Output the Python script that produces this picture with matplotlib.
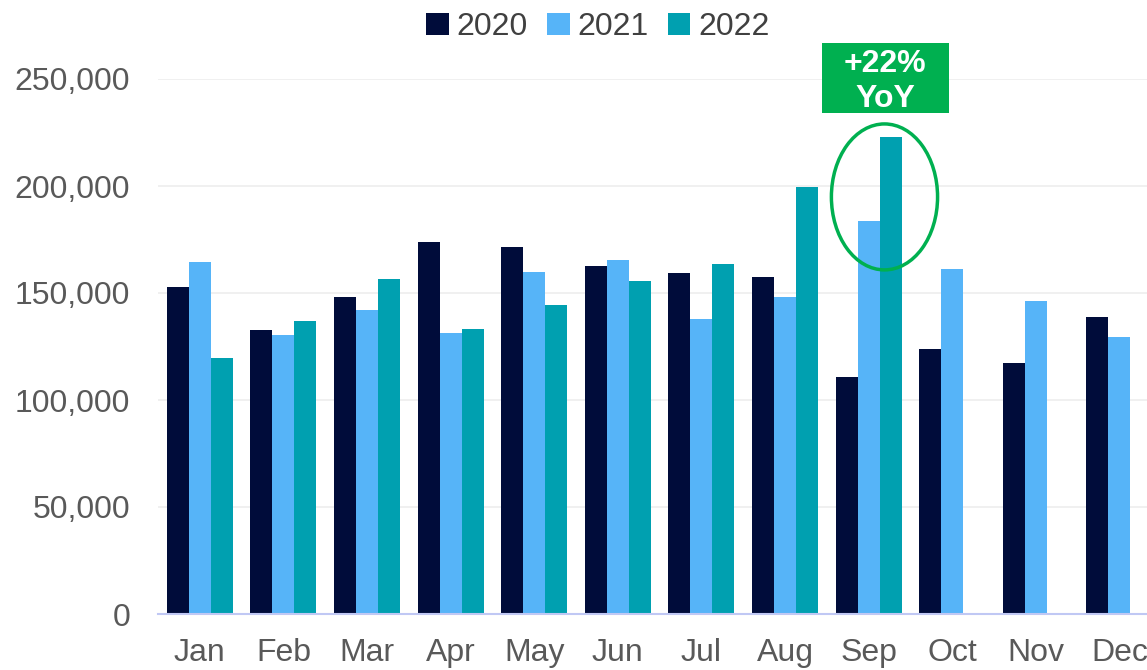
import numpy as np
import matplotlib.pyplot as plt
from matplotlib.patches import Ellipse, Rectangle

months = ["Jan", "Feb", "Mar", "Apr", "May", "Jun",
          "Jul", "Aug", "Sep", "Oct", "Nov", "Dec"]
sales_2020 = [153000, 132700, 148100, 173800, 171500, 162600,
              159300, 157500, 110700, 123800, 117300, 138800]
sales_2021 = [164500, 130400, 142100, 131300, 159800, 165400,
              137900, 148100, 183600, 161200, 146300, 129400]
sales_2022 = [119600, 136900, 156500, 133200, 144400, 155600,
              163600, 199500, 222900]
years = ["2020", "2021", "2022"]
colors = ["#000c3a", "#56b4f8", "#00a0b0"]

plt.rcParams['font.family'] = ['Liberation Sans', 'DejaVu Sans']

fig = plt.figure(figsize=(11.47, 6.70), dpi=100)
ax = fig.add_axes([158 / 1147, 1 - 614 / 670, 1 - 158 / 1147, (614 - 79) / 670])

x = np.arange(len(months))
w = 0.263
for i, (vals, c, lab) in enumerate(zip([sales_2020, sales_2021, sales_2022], colors, years)):
    xs = x[:len(vals)] + (i - 1) * w
    ax.bar(xs, vals, width=w, color=c, label=lab, zorder=2)

ax.set_ylim(0, 250000)
ax.set_xlim(-0.5, (1147 - 158) / 83.6 - 0.5)
ax.set_yticks(np.arange(0, 250001, 50000))
ax.yaxis.set_major_formatter(plt.FuncFormatter(lambda v, p: f"{int(v):,}"))
ax.set_xticks(x)
ax.set_xticklabels(months)
ax.tick_params(axis='both', length=0, labelsize=23, colors='#595959')
ax.tick_params(axis='x', pad=17)
ax.tick_params(axis='y', pad=20)
ax.grid(axis='y', color='#eeeeee', linewidth=1.2, zorder=0)
for s in ['top', 'right', 'left']:
    ax.spines[s].set_visible(False)
ax.spines['bottom'].set_color('#c0c8f4')
ax.spines['bottom'].set_linewidth(1.5)
ax.spines['bottom'].set_zorder(3)

# highlight of September
ax.add_patch(Ellipse((8.19, 194900), 1.27, 68200, fill=False,
                     edgecolor='#00b050', linewidth=2.5, zorder=4))
ax.add_patch(Rectangle((7.44, 234100), 1.52, 32700, facecolor='#00b050',
                       edgecolor='none', clip_on=False, zorder=4))
ax.text(8.2, 248800, "+22%\nYoY", ha='center', va='center', color='white',
        fontsize=23, fontweight='bold', linespacing=1.25, zorder=5, clip_on=False)

fig.legend(loc='upper center', bbox_to_anchor=(598 / 1147, 1.025), ncol=3,
           frameon=False, fontsize=23, handlelength=0.7, handleheight=0.7,
           handletextpad=0.25, columnspacing=0.6, labelcolor='#404040')

fig.savefig("out.png", dpi=100)
